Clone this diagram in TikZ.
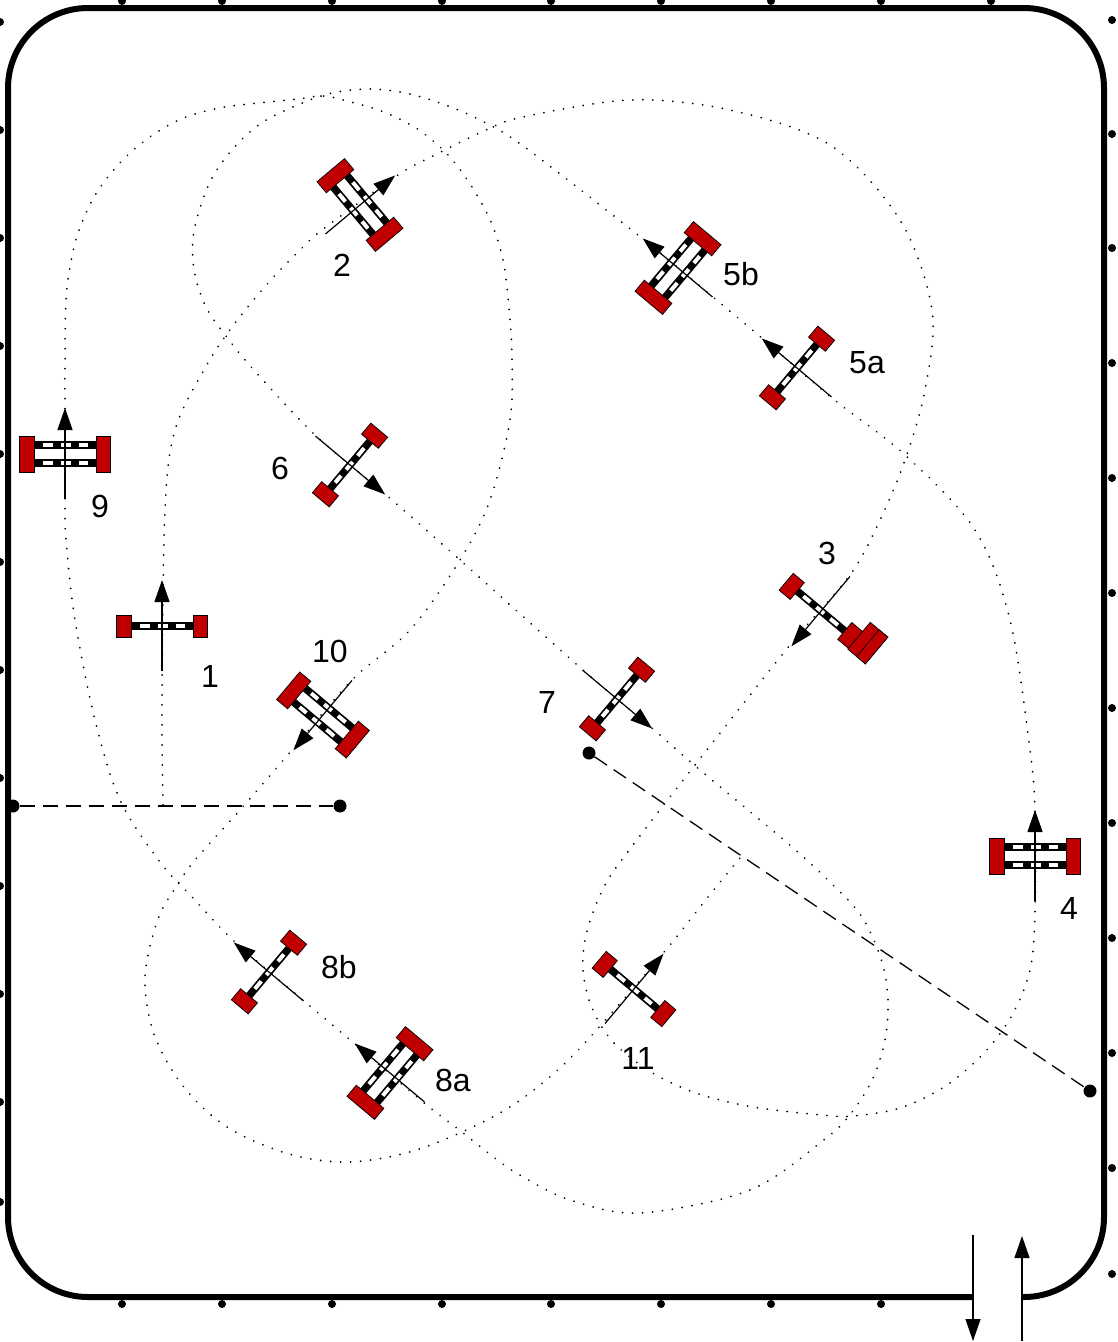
\documentclass[tikz,border=0pt]{standalone}
\usepackage{fontspec}
\setmainfont{Liberation Sans}
\usetikzlibrary{arrows.meta}
\definecolor{polered}{HTML}{C00000}
\tikzset{
  course/.style={line width=6pt, draw=black},
  route/.style={draw=black, line width=1.9pt, line cap=round, dash pattern=on 0.1pt off 9.9pt},
  measure/.style={draw=black, line width=1.3pt, dash pattern=on 15pt off 8pt},
  marker/.style={circle, fill=black, inner sep=0pt, minimum size=13pt},
  edgedot/.style={circle, fill=black, inner sep=0pt, minimum size=8pt},
  pole/.style={draw=black, line width=0.7pt, fill=polered},
  railblack/.style={draw=black, line width=7.5pt},
  railwhite/.style={draw=white, line width=4pt, dash pattern=on 10pt off 8pt},
  jumparrow/.style={draw=black, line width=1.2pt, -{Triangle[length=22pt,width=15pt]}},
  number/.style={font=\fontsize{32}{32}\selectfont, inner sep=0pt},
  single/.pic={
    \draw[railblack] (-31,0) -- (31,0);
    \draw[railwhite] (-22,0) -- (23,0);
    \draw[pole] (-45.5,-11) rectangle (-31,11);
    \draw[pole] (31,-11) rectangle (45.5,11);
    \draw[jumparrow] (0,45) -- (0,-46);
  },
  oxer/.pic={
    \draw[railblack] (-31,-9) -- (31,-9);
    \draw[railblack] (-31,9) -- (31,9);
    \draw[railwhite] (-22,-9) -- (23,-9);
    \draw[railwhite] (-22,9) -- (23,9);
    \draw[pole] (-45.5,-18) rectangle (-31,18);
    \draw[pole] (31,-18) rectangle (45.5,18);
    \draw[jumparrow] (0,45) -- (0,-46);
  }
}

\begin{document}
\begin{tikzpicture}[x=1pt, y=-1pt]
\useasboundingbox (0,0) rectangle (1117,1342);

% arena
\draw[course] (973,1297) -- (88,1297) arc[start angle=90, end angle=180, radius=80]
  -- (8,88) arc[start angle=180, end angle=270, radius=80]
  -- (1024,8) arc[start angle=270, end angle=360, radius=80]
  -- (1104,1217) arc[start angle=0, end angle=90, radius=80] -- (1022,1297);

\foreach \x in {122,222,332,442,551,661,771,881,991} \node[edgedot] at (\x,1) {};
\foreach \x in {122,222,332,442,551,661,771,881} \node[edgedot] at (\x,1304) {};
\foreach \y in {22,130,238,346,454,562,670,778,886,994,1102,1202} \node[edgedot] at (0,\y) {};
\foreach \y in {20,134,248,363,478,593,708,823,938,1053,1168,1274} \node[edgedot] at (1112,\y) {};

% gate
\coordinate (gatea) at (973,1235);
\coordinate (gateb) at (973,1341);
\coordinate (gatec) at (1022,1341);
\coordinate (gated) at (1022,1236);
\draw[jumparrow] (gatea) -- (gateb);
\draw[jumparrow] (gatec) -- (gated);

% measured distances
\node[marker] (starta) at (13,806) {};
\node[marker] (startb) at (340,806) {};
\node[marker] (finisha) at (589,753) {};
\node[marker] (finishb) at (1090,1091) {};
\draw[measure] (starta) -- (startb);
\draw[measure] (finisha) -- (finishb);

% track
\draw[route] plot[smooth, tension=0.55] coordinates {(163,805) (162,700) (165,510) (175,430) (205,368) (232,327) (269,282) (304,246) (326,227) (398,175) (433,156) (486,130) (523,117) (630,100) (730,110) (830,145) (900,220) (932,310) (925,390) (905,460) (880,520) (850,575) (790,645) (695,765) (633,845) (605,885) (587,931) (583,970) (592,1008) (613,1042) (651,1072) (696,1093) (753,1107) (822,1115) (853,1116) (900,1108) (944,1087) (982,1055) (1011,1017) (1030,970) (1035,912) (1035,812) (1030,750) (1010,620) (975,530) (905,455) (832,398) (763,339) (713,297) (643,239) (526,148) (484,122) (448,106) (410,94) (371,89) (332,93) (295,106) (260,124) (231,151) (209,184) (194,231) (194,270) (206,307) (226,336) (253,369) (315,435) (385,494) (460,560) (583,670) (653,729) (700,770) (785,841) (829,881) (862,917) (882,962) (888,1001) (885,1040) (873,1078) (852,1112) (825,1139) (750,1190) (640,1213) (570,1200) (525,1178) (500,1162) (462,1132) (423,1102) (355,1044) (304,1001) (234,941) (193,898) (160,862) (120,800) (95,720) (75,620) (66,540) (65,500) (65,408) (65,368) (66,300) (71,262) (78,233) (94,197) (118,165) (147,139) (181,119) (219,108) (258,103) (298,99) (323,96) (347,101) (384,112) (419,130) (449,156) (472,187) (491,222) (503,260) (509,308) (512,358) (510,420) (490,500) (460,560) (410,630) (352,680) (292,750) (240,810) (195,860) (178,884) (158,919) (145,977) (154,1034) (183,1086) (227,1127) (289,1154) (347,1162) (406,1153) (462,1132) (513,1105) (560,1068) (601,1025) (665,951) (708,897) (740,858)};

% jumps
\pic at (162,626) {single};
\pic[rotate=-50] at (360,205) {oxer};
\pic[rotate=-220] at (821,611) {single};
\draw[pole, rotate around={-220:(821,611)}] (821-68,611-12) rectangle (821-45,611+23);
\draw[pole, rotate around={-220:(821,611)}] (821-56.5,611-12) rectangle (821-68,611+23);
\pic at (1035,856) {oxer};
\pic[rotate=50] at (797,368) {single};
\pic[rotate=50] at (678,268) {oxer};
\pic[rotate=-130] at (350,465) {single};
\pic[rotate=-130] at (617,699) {single};
\pic[rotate=50] at (390,1073) {oxer};
\pic[rotate=50] at (269,972) {single};
\pic at (65,454) {oxer};
\pic[rotate=-220] at (323,715) {oxer};
\pic[rotate=-40] at (634,989) {single};

% numbers
\node[number] (n1) at (210,676) {1};
\node[number] (n2) at (342,265) {2};
\node[number] (n3) at (827,553) {3};
\node[number] (n4) at (1069,908) {4};
\node[number] (n5a) at (867,363) {5a};
\node[number] (n5b) at (741,274) {5b};
\node[number] (n6) at (280,468) {6};
\node[number] (n7) at (547,702) {7};
\node[number] (n8a) at (453,1080) {8a};
\node[number] (n8b) at (339,967) {8b};
\node[number] (n9) at (100,506) {9};
\node[number] (n10) at (330,651) {10};
\node[number] (n11) at (638,1058) {11};

\end{tikzpicture}
\end{document}
